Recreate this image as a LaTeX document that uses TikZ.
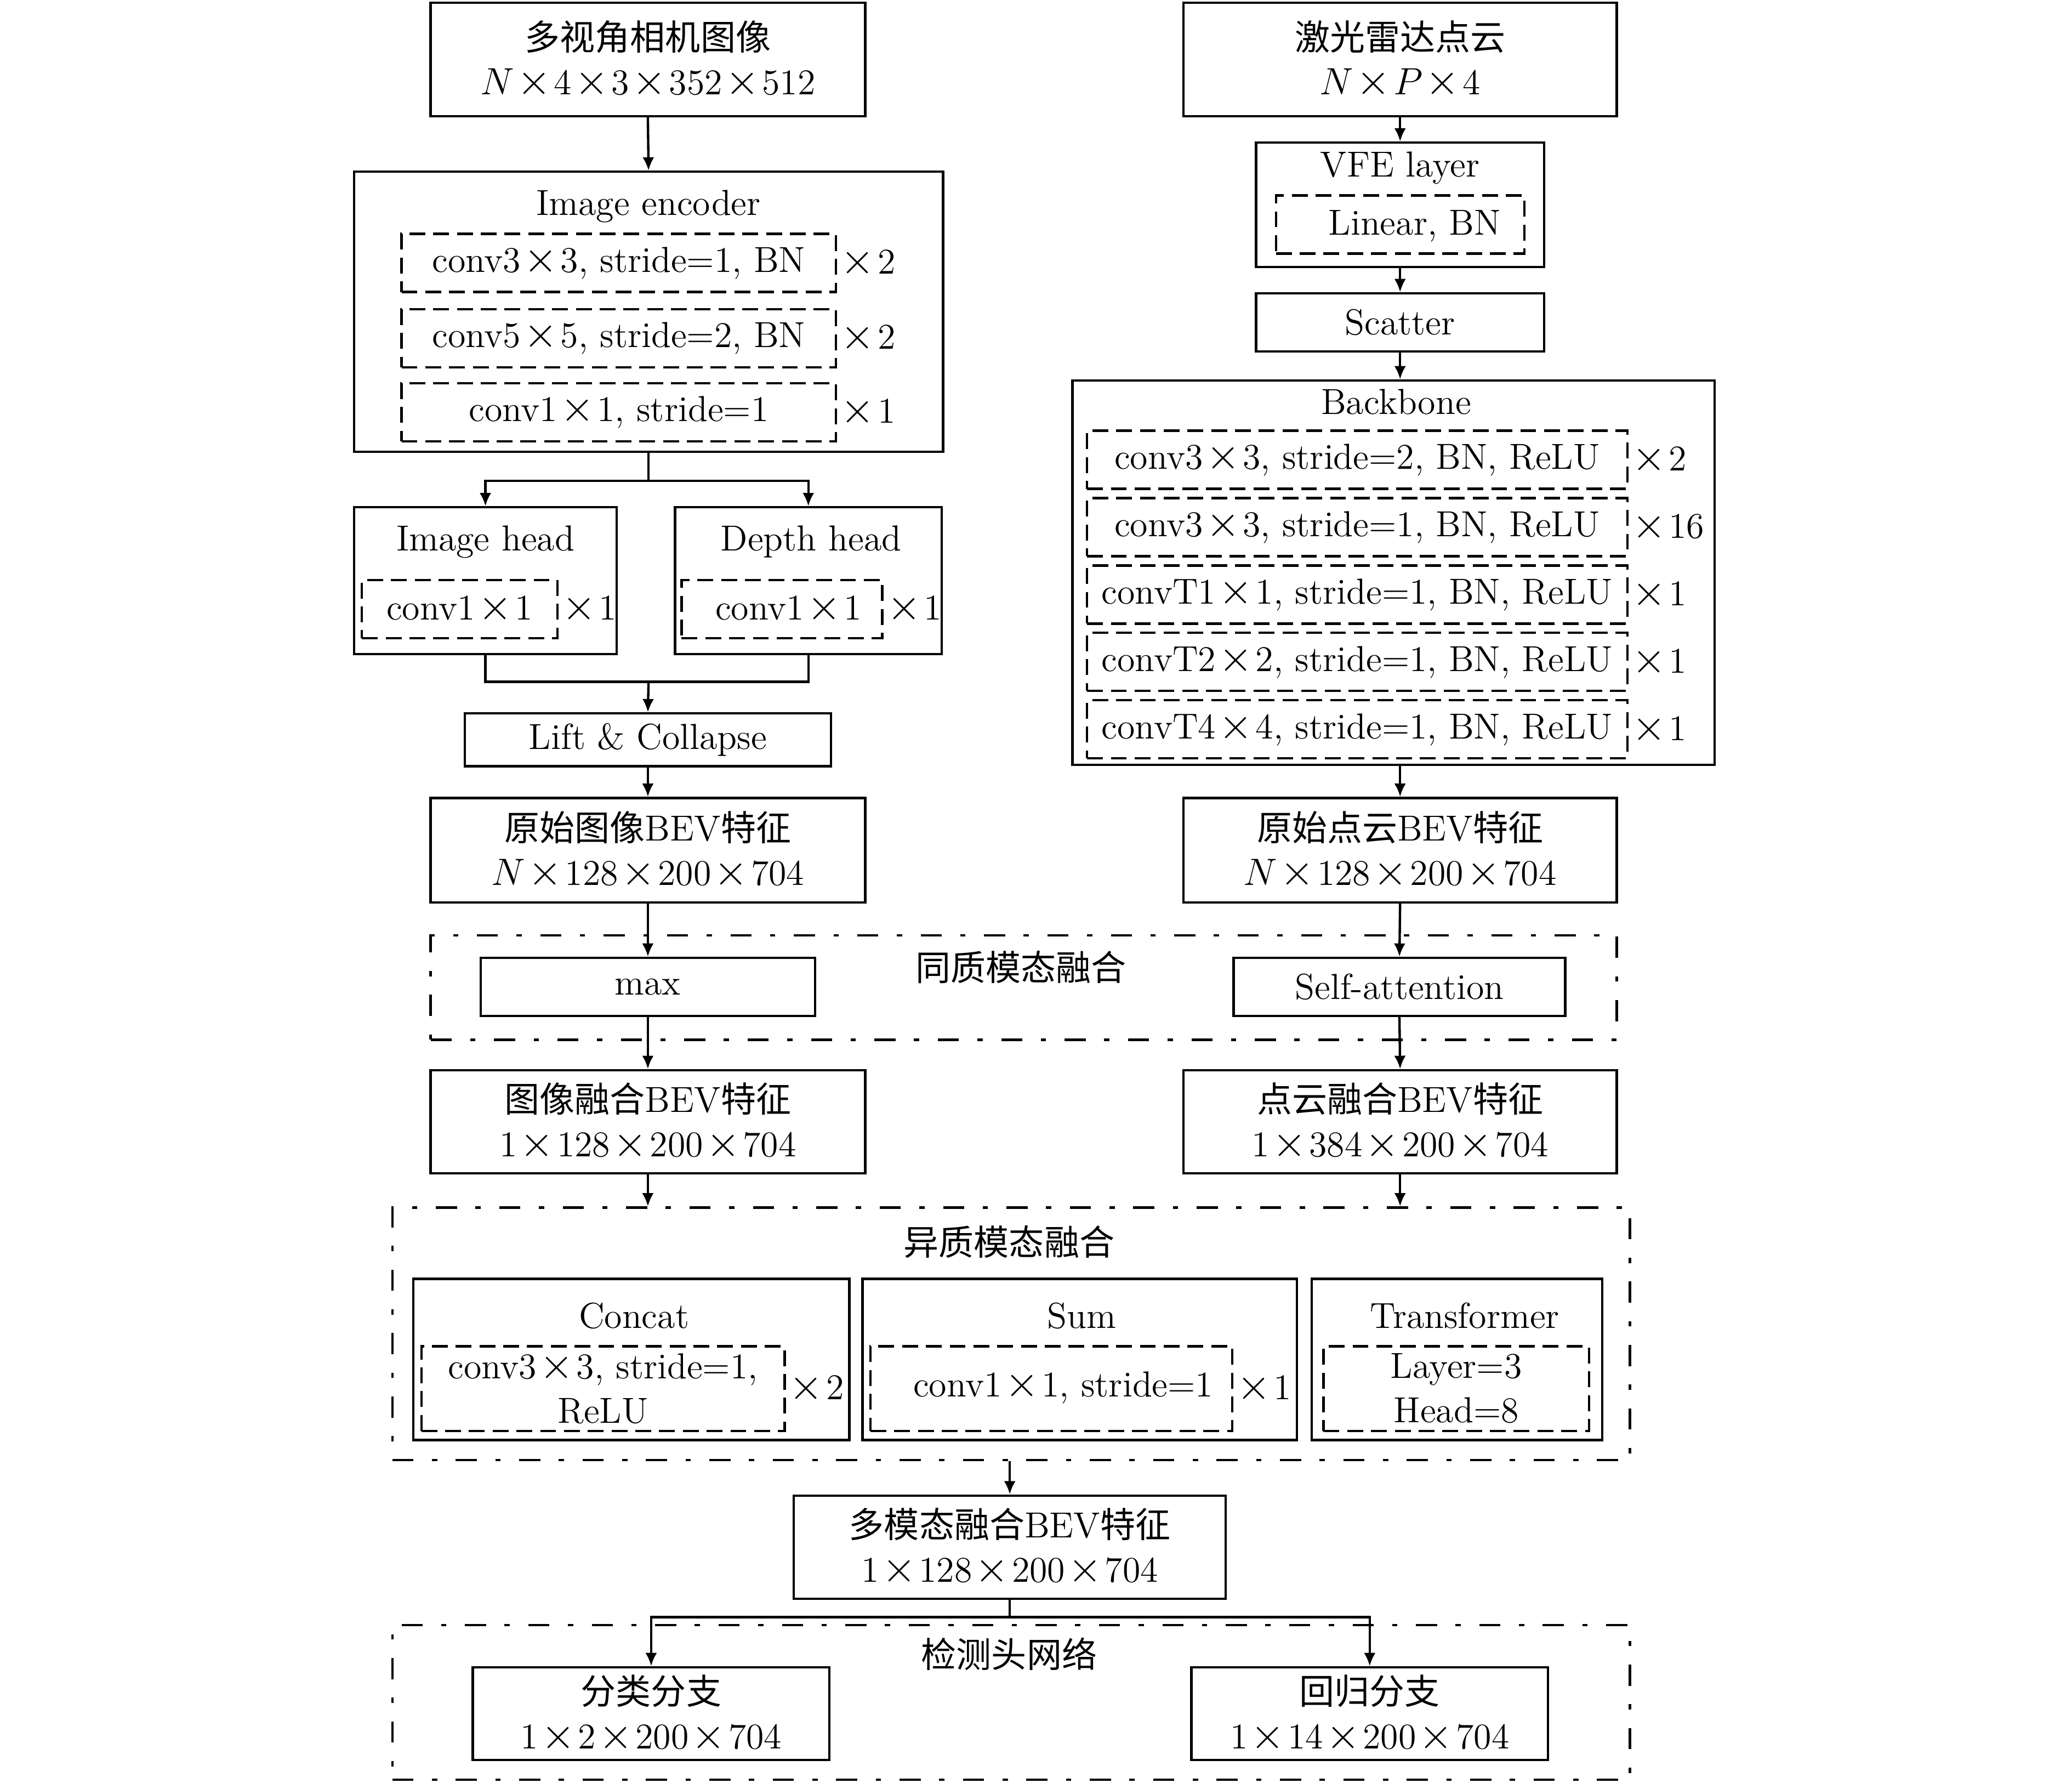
\documentclass[tikz,border=0pt]{standalone}
\usepackage{fontspec}
\newfontfamily\cjk[Scale=0.97]{Noto Sans CJK SC}
\usetikzlibrary{arrows.meta}
\newcommand\tms{\hspace{0.08em}\scalebox{1.15}{$\times$}\hspace{0.08em}}
\newcommand\bx[7][]{%
  \pgfmathsetmacro\bw{(#4-#2)*0.5}%
  \pgfmathsetmacro\bh{(#5-#3)*0.5}%
  \pgfmathsetmacro\bcx{(#2+#4)/2}%
  \pgfmathsetmacro\bcy{(#3+#5)/2}%
  \node[#1, minimum width=\bw pt, minimum height=\bh pt] (#6) at (\bcx,\bcy) {#7};}
\tikzset{
  base/.style={inner sep=0pt, font=\fontsize{13.7}{16.8}\selectfont, align=center},
  box/.style={base, draw, line width=0.9pt},
  dbox/.style={base, draw, line width=0.9pt, dash pattern=on 6pt off 3pt},
  ddbox/.style={base, draw, line width=0.9pt, dash pattern=on 8pt off 7pt on 2pt off 7pt},
  txt/.style={base},
  mult/.style={base, anchor=west},
  arr/.style={line width=0.9pt, -{Latex[length=5pt,width=4.4pt]}},
  ln/.style={line width=0.9pt},
}
\begin{document}
\begin{tikzpicture}[x=0.5pt,y=-0.5pt]
\useasboundingbox (0,0) rectangle (1568.7,1349.2);
\fill[white] (0,0) rectangle (1568.7,1349.2);

% ---------- left column ----------
\bx[box]{326}{2}{655}{88}{cam}{{\cjk 多视角相机图像}\\$N$\tms 4\tms 3\tms 352\tms 512}

\bx[box]{268}{130}{714}{342}{enc}{}
\node[txt] (enct) at (491,156) {Image encoder};
\bx[dbox]{304}{177}{633}{221}{e1}{conv3\tms 3, stride=1, BN}
\bx[dbox]{304}{234}{633}{278}{e2}{conv5\tms 5, stride=2, BN}
\bx[dbox]{304}{290}{633}{334}{e3}{conv1\tms 1, stride=1}
\node[mult] (e1m) at (e1.east) {\tms 2};
\node[mult] (e2m) at (e2.east) {\tms 2};
\node[mult] (e3m) at (e3.east) {\tms 1};

\bx[box]{268}{384}{467}{495}{ih}{}
\node[txt] (iht) at (367.5,410) {Image head};
\bx[dbox]{274}{439}{422}{483}{ihc}{conv1\tms 1}
\node[mult] (ihm) at (ihc.east) {\tms 1};

\bx[box]{511}{384}{713}{495}{dh}{}
\node[txt] (dht) at (614,410) {Depth head};
\bx[dbox]{516}{439}{668}{483}{dhc}{}
\node[txt] (dhct) at (597,461) {conv1\tms 1};
\node[mult] (dhm) at (dhc.east) {\tms 1};

\bx[box]{352}{540}{629}{580}{lift}{Lift \& Collapse}
\bx[box]{326}{604}{655}{683}{bevi}{{\cjk 原始图像}BEV{\cjk 特征}\\$N$\tms 128\tms 200\tms 704}

% ---------- right column ----------
\bx[box]{896}{2}{1224}{88}{lidar}{{\cjk 激光雷达点云}\\$N$\tms$P$\tms 4}
\bx[box]{951}{108}{1169}{202}{vfe}{}
\node[txt] (vfet) at (1060,127) {VFE layer};
\bx[dbox]{966}{148}{1154}{192}{vfed}{}
\node[txt] (vfedt) at (1071,171) {Linear, BN};
\bx[box]{951}{222}{1169}{266}{sc}{Scatter}

\bx[box]{812}{288}{1298}{579}{bb}{}
\node[txt] (bbt) at (1057,304) {Backbone};
\bx[dbox]{823}{326}{1232}{370}{b1}{conv3\tms 3, stride=2, BN, ReLU}
\bx[dbox]{823}{377}{1232}{421}{b2}{conv3\tms 3, stride=1, BN, ReLU}
\bx[dbox]{823}{428}{1232}{472}{b3}{convT1\tms 1, stride=1, BN, ReLU}
\bx[dbox]{823}{479}{1232}{523}{b4}{convT2\tms 2, stride=1, BN, ReLU}
\bx[dbox]{823}{530}{1232}{574}{b5}{convT4\tms 4, stride=1, BN, ReLU}
\node[mult] (b1m) at (b1.east) {\tms 2};
\node[mult] (b2m) at (b2.east) {\tms 16};
\node[mult] (b3m) at (b3.east) {\tms 1};
\node[mult] (b4m) at (b4.east) {\tms 1};
\node[mult] (b5m) at (b5.east) {\tms 1};

\bx[box]{896}{604}{1224}{683}{bevp}{{\cjk 原始点云}BEV{\cjk 特征}\\$N$\tms 128\tms 200\tms 704}

% ---------- homogeneous fusion ----------
\bx[ddbox]{326}{708}{1224}{787}{hom}{}
\node[txt] (homt) at (773,732) {\cjk 同质模态融合};
\bx[box]{364}{725}{617}{769}{max}{max}
\bx[box]{934}{725}{1185}{769}{sa}{Self-attention}

\bx[box]{326}{810}{655}{888}{fusi}{{\cjk 图像融合}BEV{\cjk 特征}\\1\tms 128\tms 200\tms 704}
\bx[box]{896}{810}{1224}{888}{fusp}{{\cjk 点云融合}BEV{\cjk 特征}\\1\tms 384\tms 200\tms 704}

% ---------- heterogeneous fusion ----------
\bx[ddbox]{297}{914}{1234}{1105}{het}{}
\node[txt] (hett) at (764,940) {\cjk 异质模态融合};
\bx[box]{313}{968}{643}{1090}{cc}{}
\node[txt] (cct) at (480,996) {Concat};
\bx[dbox]{319}{1019}{594}{1083}{ccd}{conv3\tms 3, stride=1,\\ReLU}
\node[mult] (ccm) at (ccd.east) {\tms 2};
\bx[box]{653}{968}{982}{1090}{sm}{}
\node[txt] (smt) at (819,996) {Sum};
\bx[dbox]{659}{1019}{933}{1083}{smd}{}
\node[txt] (smdt) at (805,1050) {conv1\tms 1, stride=1};
\node[mult] (smm) at (smd.east) {\tms 1};
\bx[box]{993}{968}{1213}{1090}{tf}{}
\node[txt] (tft) at (1109,996) {Transformer};
\bx[dbox]{1002}{1019}{1203}{1083}{tfd}{Layer=3\\Head=8}

\bx[box]{601}{1132}{928}{1210}{mm}{{\cjk 多模态融合}BEV{\cjk 特征}\\1\tms 128\tms 200\tms 704}

% ---------- detection head ----------
\bx[ddbox]{297}{1230}{1234}{1347}{det}{}
\node[txt] (dett) at (764,1252) {\cjk 检测头网络};
\bx[box]{358}{1262}{628}{1332}{cls}{{\cjk 分类分支}\\1\tms 2\tms 200\tms 704}
\bx[box]{902}{1262}{1172}{1332}{reg}{{\cjk 回归分支}\\1\tms 14\tms 200\tms 704}

% ---------- connectors ----------
\draw[arr] (cam.south) -- (enc.north);
\coordinate (s1) at (491,364);
\draw[ln] (enc.south) -- (s1);
\draw[arr] (s1) -| (ih.north);
\draw[arr] (s1) -| (dh.north);
\coordinate (s2) at (491,516);
\draw[ln] (ih.south) |- (s2);
\draw[ln] (dh.south) |- (s2);
\draw[arr] (s2) -- (lift.north);
\draw[arr] (lift.south) -- (bevi.north);
\draw[arr] (bevi.south) -- (max.north);
\draw[arr] (max.south) -- (fusi.north);
\draw[arr] (fusi.south) -- (fusi.south |- het.north);

\draw[arr] (lidar.south) -- (vfe.north);
\draw[arr] (vfe.south) -- (sc.north);
\draw[arr] (sc.south) -- (sc.south |- bb.north);
\draw[arr] (bevp.north |- bb.south) -- (bevp.north);
\draw[arr] (bevp.south) -- (sa.north);
\draw[arr] (sa.south) -- (fusp.north);
\draw[arr] (fusp.south) -- (fusp.south |- het.north);

\draw[arr] (mm.north |- het.south) -- (mm.north);
\coordinate (s3) at (764.5,1224);
\draw[ln] (mm.south) -- (s3);
\draw[arr] (s3) -| (cls.north);
\draw[arr] (s3) -| (reg.north);
\end{tikzpicture}
\end{document}
